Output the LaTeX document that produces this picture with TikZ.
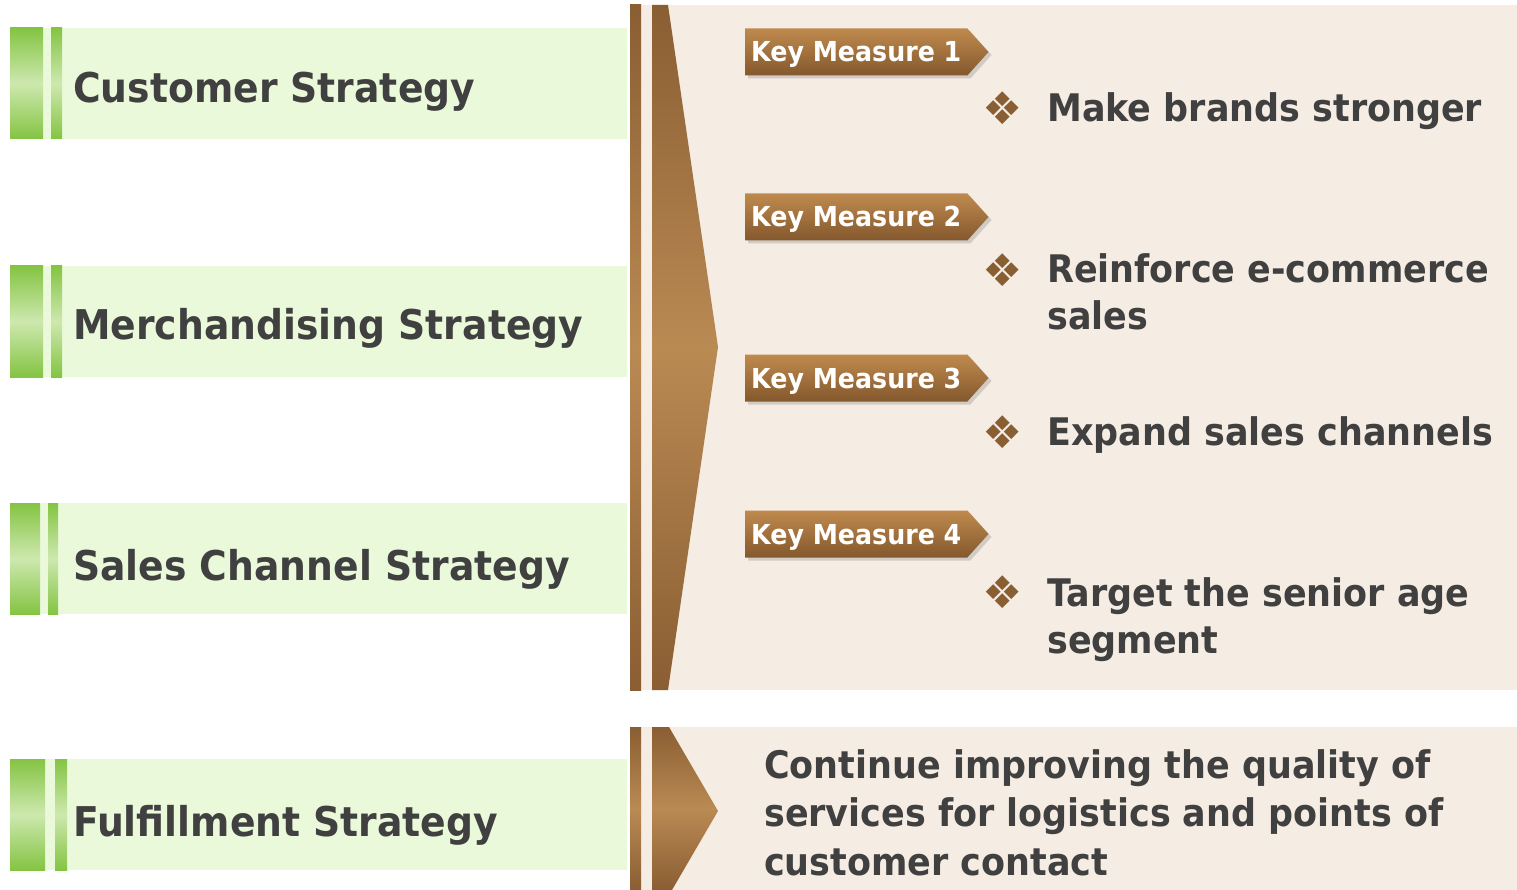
\documentclass[tikz,border=0pt]{standalone}
\usepackage{fontspec}
\setmainfont{DejaVu Sans}
\newfontfamily\labelfont[FakeStretch=0.92]{DejaVu Sans}
\usepackage{tikz}
\usetikzlibrary{positioning,shapes.symbols,shadows}
\definecolor{bandfill}{HTML}{EBF9DB}
\definecolor{bargreen}{HTML}{84C443}
\definecolor{barlight}{HTML}{CDE8AE}
\definecolor{panelfill}{HTML}{F5ECE3}
\definecolor{browndark}{HTML}{8A5E33}
\definecolor{brownlight}{HTML}{BA8A53}
\definecolor{tagtop}{HTML}{BF8A4E}
\definecolor{tagbottom}{HTML}{84582D}
\definecolor{textgray}{HTML}{404040}
\tikzset{
	greenbar/.style={top color=bargreen, bottom color=bargreen, middle color=barlight},
	brownbar/.style={top color=browndark, bottom color=browndark, middle color=brownlight},
	stratlabel/.style={anchor=base west, inner sep=0pt, text=textgray, font=\labelfont\fontsize{41}{48}\selectfont\bfseries},
	measuretext/.style={anchor=base west, inner sep=0pt, align=left, text=textgray, font=\labelfont\fontsize{38}{47}\selectfont\bfseries},
	keytag/.style={signal, signal to=east, signal pointer angle=96, anchor=west, minimum height=47, inner xsep=6pt,
		text height=20pt, text depth=0pt,
		top color=tagtop, bottom color=tagbottom, draw=none, text=white, font=\labelfont\fontsize{27.5}{30}\selectfont\bfseries,
		drop shadow={shadow xshift=3pt, shadow yshift=-3pt, opacity=0.3}},
	bulletnode/.style={inner sep=0pt, text=browndark, font=\fontsize{45}{48}\selectfont}
}

\begin{document}
\begin{tikzpicture}[x=1pt, y=-1pt]
	\useasboundingbox[fill=white] (0,0) rectangle (1517,890);
	
	% strategy bands on the left
	\fill[bandfill] (10,28) rectangle (627,139);
	\shade[greenbar] (10,28) rectangle (43,139);
	\shade[greenbar] (51,28) rectangle (62,139);
	\fill[bandfill] (10,266) rectangle (627,377);
	\shade[greenbar] (10,266) rectangle (43,377);
	\shade[greenbar] (51,266) rectangle (62,377);
	\fill[bandfill] (10,503) rectangle (627,614);
	\shade[greenbar] (10,503) rectangle (40,614);
	\shade[greenbar] (48,503) rectangle (58,614);
	\fill[bandfill] (10,759) rectangle (627,870);
	\shade[greenbar] (10,759) rectangle (45,870);
	\shade[greenbar] (55,759) rectangle (67,870);
	
	\node[stratlabel] at (73,103) (custStrat) {Customer Strategy};
	\node[stratlabel] at (73,339) (merchStrat) {Merchandising Strategy};
	\node[stratlabel] at (73,580) (salesStrat) {Sales Channel Strategy};
	\node[stratlabel] at (73,836) (fulfilStrat) {Fulfillment Strategy};
	
	% key measures panel
	\fill[panelfill] (630,5) rectangle (1517,690);
	\shade[brownbar] (630,5) rectangle (641,690);
	\shade[brownbar] (652,5) -- (668,5) -- (718,347) -- (668,690) -- (652,690) -- cycle;
	
	\node[keytag] at (745,52) (key1) {Key Measure 1};
	\node[keytag] at (745,217) (key2) {Key Measure 2};
	\node[keytag] at (745,378) (key3) {Key Measure 3};
	\node[keytag] at (745,534) (key4) {Key Measure 4};
	
	\node[bulletnode] at (1003,108) (dot1) {❖};
	\node[bulletnode] at (1003,270) (dot2) {❖};
	\node[bulletnode] at (1003,432) (dot3) {❖};
	\node[bulletnode] at (1003,592) (dot4) {❖};
	
	% base anchor sits on the last line
	\node[measuretext] at (1047,122) (meas1) {Make brands stronger};
	\node[measuretext] at (1047,330) (meas2) {Reinforce e-commerce\\sales};
	\node[measuretext] at (1047,445) (meas3) {Expand sales channels};
	\node[measuretext] at (1047,653) (meas4) {Target the senior age\\segment};
	
	% fulfillment panel
	\fill[panelfill] (630,727) rectangle (1517,890);
	\shade[brownbar] (630,727) rectangle (641,890);
	\shade[brownbar] (652,727) -- (669,727) -- (718,811) -- (672,890) -- (652,890) -- cycle;
	
	\node[measuretext, font=\labelfont\fontsize{38}{48.5}\selectfont\bfseries] at (764,875) (fulfilText)
		{Continue improving the quality of\\services for logistics and points of\\customer contact};
\end{tikzpicture}
\end{document}
